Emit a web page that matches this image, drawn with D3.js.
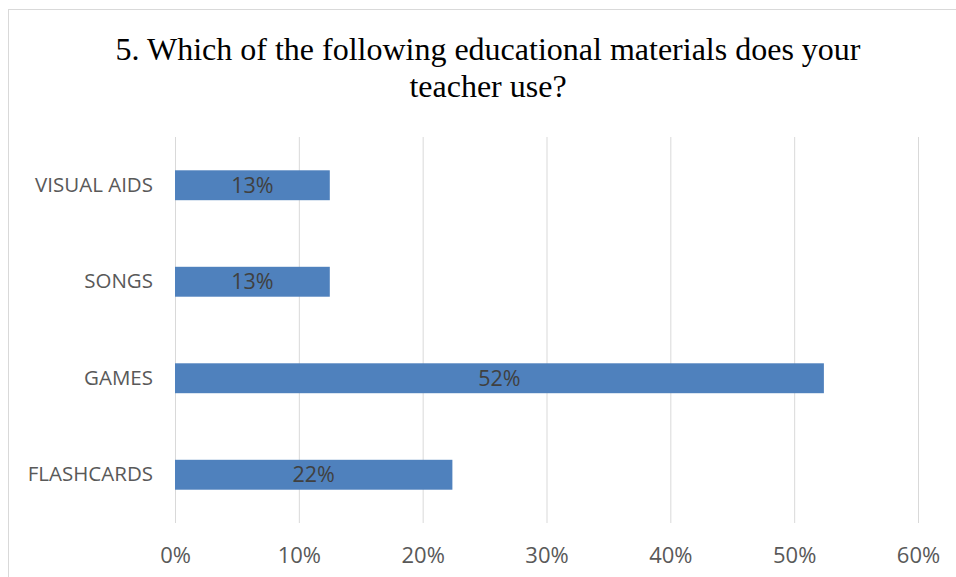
<!DOCTYPE html>
<html><head><meta charset="utf-8">
<script src="https://cdn.jsdelivr.net/npm/d3@7"></script>
<style>html,body{margin:0;padding:0;background:#fff;}svg{display:block;}</style>
</head><body>
<script>
const categories = ["VISUAL AIDS", "SONGS", "GAMES", "FLASHCARDS"];
const values = [12.5, 12.5, 52.4, 22.4];
const xTicks = [0, 10, 20, 30, 40, 50, 60];
const titleLines = ["5. Which of the following educational materials does your", "teacher use?"];

const W = 956, H = 577;
const svg = d3.select("body").append("svg").attr("width", W).attr("height", H);
svg.append("rect").attr("x", 8.5).attr("y", 9.5).attr("width", W + 10).attr("height", H + 10)
  .attr("fill", "#fff").attr("stroke", "#d9d9d9").attr("stroke-width", 1);

const m = {left: 175, right: 918, top: 137, bottom: 523};
const x = d3.scaleLinear().domain([0, 60]).range([m.left, m.right]);
const y = d3.scaleBand().domain(categories).range([m.top, m.bottom]).paddingInner(0.69).paddingOuter(0.345);
const sans = "'Open Sans', Lato, sans-serif";

svg.append("g").selectAll("text").data(titleLines).join("text")
  .attr("x", 488).attr("y", (d, i) => 60 + i * 37)
  .attr("text-anchor", "middle").attr("font-family", "'Liberation Serif', 'Times New Roman', serif")
  .attr("font-size", 32).attr("fill", "#000").text(d => d);

svg.append("g").selectAll("line").data(xTicks).join("line")
  .attr("x1", d => x(d) + 0.5).attr("x2", d => x(d) + 0.5)
  .attr("y1", m.top).attr("y2", m.bottom)
  .attr("stroke", "#d9d9d9").attr("stroke-width", 1);

const xAxis = d3.axisBottom(x).tickValues(xTicks).tickFormat(d => d + "%").tickSize(0).tickPadding(0);
const gx = svg.append("g").attr("transform", `translate(0,${m.bottom + 40})`).call(xAxis);
gx.select(".domain").remove();
gx.selectAll("text").attr("font-family", sans).attr("font-size", 22).attr("fill", "#595959").attr("dy", 0);

const yAxis = d3.axisLeft(y).tickSize(0).tickPadding(22);
const gy = svg.append("g").attr("transform", `translate(${m.left},0)`).call(yAxis);
gy.select(".domain").remove();
gy.selectAll("text").attr("font-family", sans).attr("font-size", 20.5).attr("fill", "#595959");

const data = categories.map((c, i) => ({c, v: values[i]}));
svg.append("g").selectAll("rect").data(data).join("rect")
  .attr("x", x(0)).attr("y", d => y(d.c)).attr("width", d => x(d.v) - x(0)).attr("height", y.bandwidth())
  .attr("fill", "#4f81bd");

svg.append("g").selectAll("text").data(data).join("text")
  .attr("x", d => (x(0) + x(d.v)) / 2).attr("y", d => y(d.c) + y.bandwidth() / 2)
  .attr("dy", "0.36em").attr("text-anchor", "middle")
  .attr("font-family", sans).attr("font-size", 21.5).attr("fill", "#404040")
  .text(d => Math.round(d.v) + "%");
</script>
</body></html>
